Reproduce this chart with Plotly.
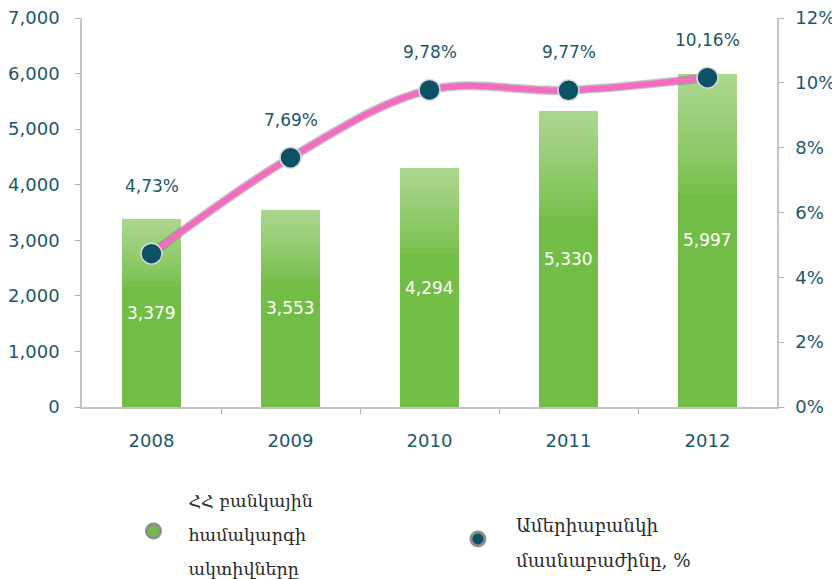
import plotly.graph_objects as go

years = ["2008", "2009", "2010", "2011", "2012"]
assets = [3379, 3553, 4294, 5330, 5997]
share = [4.73, 7.69, 9.78, 9.77, 10.16]
left_ticks = [0, 1000, 2000, 3000, 4000, 5000, 6000, 7000]
right_ticks = [0, 2, 4, 6, 8, 10, 12]
right_ticktext = ["0%", "2%", "4%", "6%", "8%", "10%", "12%"]
legend_assets = ["ՀՀ բանկային", "համակարգի", "ակտիվները"]
legend_share = ["Ամերիաբանկի", "մասնաբաժինը, %"]

TEAL = "#1c5869"
GREEN = "#72bd45"
LIGHT = "#aad58d"
PINK = "#f46cc1"
MARK = "#0d5166"
FONT = "DejaVu Sans"

xpos = list(range(len(years)))
bounds = [i + 0.5 for i in xpos[:-1]]

def mix(c1, c2, t):
    a = [int(c1[i:i + 2], 16) for i in (1, 3, 5)]
    b = [int(c2[i:i + 2], 16) for i in (1, 3, 5)]
    return "rgb(%d,%d,%d)" % tuple(round(a[k] + (b[k] - a[k]) * t) for k in range(3))

def legend_text(lines, size):
    return "<br>".join('<span style="font-size:%spx">%s</span>' % (size, s) for s in lines)

fig = go.Figure()

# bars with a vertical gradient built from stacked slices of each value
solid_frac = 0.64
n_grad = 12
fig.add_trace(go.Bar(x=xpos, y=[v * solid_frac for v in assets], marker=dict(color=GREEN, line_width=0),
                     width=0.42, showlegend=False, hoverinfo="skip"))
for k in range(n_grad):
    t = (k + 1) / n_grad
    fig.add_trace(go.Bar(x=xpos, y=[v * (1 - solid_frac) / n_grad for v in assets],
                         marker=dict(color=mix(GREEN, LIGHT, t ** 0.8), line_width=0),
                         width=0.42, showlegend=False, hoverinfo="skip"))

# line shadow + line
fig.add_trace(go.Scatter(x=xpos, y=share, yaxis="y2", mode="lines",
                         line=dict(color="rgba(120,120,120,0.45)", width=9, shape="spline", smoothing=1),
                         showlegend=False, hoverinfo="skip"))
fig.add_trace(go.Scatter(x=xpos, y=share, yaxis="y2", mode="lines+markers",
                         line=dict(color=PINK, width=6, shape="spline", smoothing=1),
                         marker=dict(size=21, color=MARK, line=dict(color="#d8dde0", width=1.5)),
                         showlegend=False))

# legend-only entries
fig.add_trace(go.Scatter(x=[None], y=[None], mode="markers", name=legend_text(legend_assets, 17.5),
                         marker=dict(symbol="circle", size=14, color=GREEN, line=dict(color="#8e8e8e", width=3)),
                         legend="legend"))
fig.add_trace(go.Scatter(x=[None], y=[None], mode="markers", name=legend_text(legend_share, 18.3),
                         marker=dict(symbol="circle", size=14, color=MARK, line=dict(color="#8e8e8e", width=3)),
                         legend="legend2"))

annotations = []
for i, v in zip(xpos, assets):
    annotations.append(dict(x=i, y=v / 2, xref="x", yref="y", text=f"{v:,}", showarrow=False,
                            font=dict(family=FONT, size=17, color="white")))
for i, p in zip(xpos, share):
    annotations.append(dict(x=i, y=p, xref="x", yref="y2", text=f"{p:.2f}".replace(".", ",") + "%",
                            showarrow=False, yshift=68 if i == 0 else 38,
                            font=dict(family=FONT, size=17, color=TEAL)))

tickfont = dict(family=FONT, size=18, color=TEAL)
fig.update_layout(
    width=832, height=571,
    margin=dict(l=74, r=63, t=10, b=172, autoexpand=False),
    paper_bgcolor="white", plot_bgcolor="white",
    barmode="stack",
    font=dict(family=FONT, size=17, color=TEAL),
    xaxis=dict(range=[-0.5, len(years) - 0.5], tickvals=xpos, ticktext=years, showgrid=False, zeroline=False,
               showline=True, linecolor="#c4c4c4", linewidth=1.5, ticks="",
               minor=dict(tickvals=bounds, ticks="outside", ticklen=5, tickcolor="#b0b0b0", showgrid=False),
               tickfont=tickfont, ticklabelstandoff=17, automargin=False, ticklabeloverflow="allow"),
    yaxis=dict(range=[0, 7000], tickvals=left_ticks, tickformat=",", showgrid=False, zeroline=False,
               showline=True, linecolor="#c4c4c4", linewidth=1.5, ticks="outside", ticklen=5,
               tickcolor="#b0b0b0", tickfont=tickfont, ticklabelstandoff=12, automargin=False,
               ticklabeloverflow="allow"),
    yaxis2=dict(range=[0, 12], overlaying="y", side="right", tickvals=right_ticks, ticktext=right_ticktext,
                showgrid=False, zeroline=False, showline=True, linecolor="#c4c4c4", linewidth=1.5,
                ticks="outside", ticklen=5, tickcolor="#b0b0b0",
                tickfont=tickfont, ticklabelstandoff=8, automargin=False, ticklabeloverflow="allow"),
    legend=dict(x=0.0525, y=-0.172, xanchor="left", yanchor="top",
                font=dict(family="DejaVu Serif", size=26, color="#2a2a2a"), bgcolor="rgba(0,0,0,0)",
                valign="middle", itemwidth=60),
    legend2=dict(x=0.515, y=-0.234, xanchor="left", yanchor="top",
                 font=dict(family="DejaVu Serif", size=26.5, color="#2a2a2a"), bgcolor="rgba(0,0,0,0)",
                 valign="middle", itemwidth=66),
    annotations=annotations,
)

fig.write_html("out.html")
